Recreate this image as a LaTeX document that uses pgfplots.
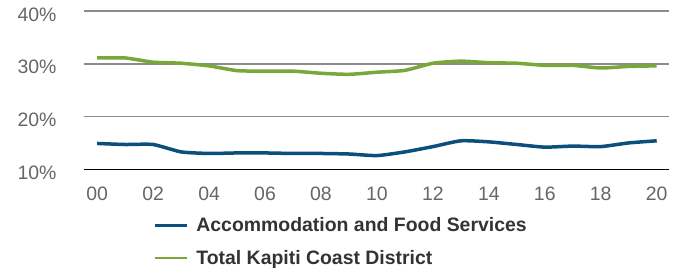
\documentclass[border=0pt]{standalone}
\usepackage{fontspec}
\setmainfont{Liberation Sans}
\usepackage{pgfplots}
\pgfplotsset{compat=1.18}
\definecolor{accblue}{HTML}{0D4F7C}
\definecolor{totgreen}{HTML}{78A83A}
\definecolor{gridgray}{HTML}{8C8C8C}
\definecolor{ticklab}{HTML}{666666}
\definecolor{legtext}{HTML}{333333}
\definecolor{baseline}{HTML}{C8D0E0}
\begin{document}
\begin{tikzpicture}[x=1bp,y=1bp]
\useasboundingbox (0,0) rectangle (678,268);
\begin{axis}[
  at={(84bp,98.7bp)}, anchor=south west,
  scale only axis, width=585bp, height=158.3bp,
  xmin=-0.47, xmax=20.44, ymin=10, ymax=40,
  axis line style={draw=none},
  xtick={0,2,...,20},
  xticklabels={00,02,04,06,08,10,12,14,16,18,20},
  ytick={10,20,30,40},
  yticklabel={\pgfmathprintnumber{\tick}\%},
  /pgf/number format/assume math mode=true,
  major tick length=0pt,
  ymajorgrids,
  grid style={draw=gridgray, line width=1.6bp},
  tick label style={font=\fontsize{19.5}{23}\selectfont, text=ticklab},
  xticklabel style={yshift=-14bp},
  yticklabel style={xshift=-24bp, yshift=-3.5bp},
  legend style={at={(axis description cs:0.118,-0.291)}, anchor=north west,
    draw=none, fill=none, font=\fontsize{19.5}{23}\selectfont\bfseries, text=legtext,
    row sep=13bp, inner sep=0pt},
  legend cell align=left,
  legend image code/.code={\draw[#1, line width=2.8bp] (0bp,0bp) -- (32bp,0bp); \path (38bp,0bp);},
  clip=false,
]
\draw[baseline, line width=1.6bp] (axis cs:-0.47,10) -- (axis cs:20.44,10);
\addplot[accblue, line width=3.5bp, smooth, tension=0.35] coordinates {
(0,14.9) (1,14.7) (2,14.7) (3,13.3) (4,13.0) (5,13.1) (6,13.1) (7,13.0) (8,13.0)
(9,12.9) (10,12.6) (11,13.3) (12,14.3) (13,15.4) (14,15.2) (15,14.7) (16,14.2)
(17,14.4) (18,14.3) (19,15.0) (20,15.4)};
\addlegendentry{Accommodation and Food Services}
\addplot[totgreen, line width=3.5bp, smooth, tension=0.35] coordinates {
(0,31.1) (1,31.1) (2,30.3) (3,30.1) (4,29.6) (5,28.7) (6,28.6) (7,28.6) (8,28.2)
(9,28.0) (10,28.4) (11,28.75) (12,30.1) (13,30.5) (14,30.2) (15,30.1) (16,29.7)
(17,29.7) (18,29.2) (19,29.5) (20,29.6)};
\addlegendentry{Total Kapiti Coast District}
\end{axis}
\end{tikzpicture}
\end{document}
